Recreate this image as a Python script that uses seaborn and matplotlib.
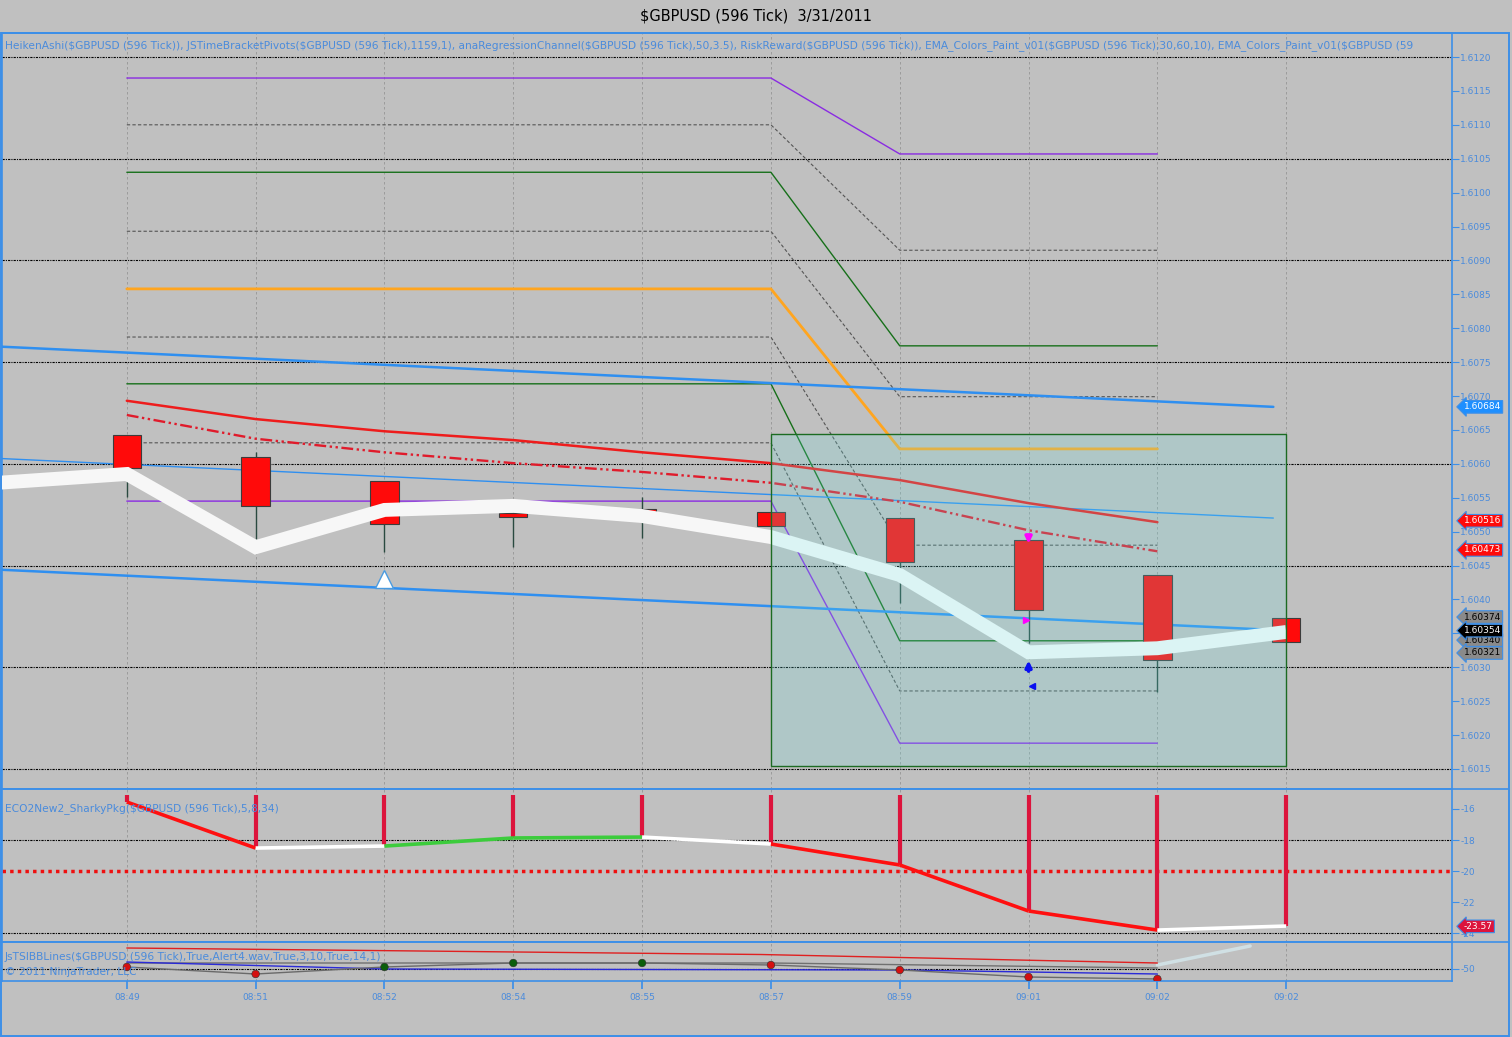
import numpy as np
import pandas as pd
import seaborn as sns
import matplotlib.pyplot as plt
import matplotlib.transforms as mtransforms
from matplotlib.patches import Rectangle
from matplotlib.lines import Line2D

# ---------------- data ----------------
bar_labels = ['08:49', '08:51', '08:52', '08:54', '08:55', '08:57', '08:59', '09:01', '09:02', '09:02']

# Heiken Ashi bars (all bearish)
ha_open = [1.60643, 1.60610, 1.60575, 1.60527, 1.60533, 1.60529, 1.60520, 1.60488, 1.60436, 1.60373]
ha_close = [1.60594, 1.60538, 1.60511, 1.60522, 1.60525, 1.60508, 1.60455, 1.60384, 1.60311, 1.60337]
ha_high = [1.60643, 1.60617, 1.60575, 1.60527, 1.60551, 1.60529, 1.60520, 1.60488, 1.60436, 1.60373]
ha_low = [1.60551, 1.60489, 1.60470, 1.60477, 1.60491, 1.60508, 1.60395, 1.60336, 1.60263, 1.60337]

# thick EMA (starts one bar before the first visible bar)
ema_white_idx = [-1, 0, 1, 2, 3, 4, 5, 6, 7, 8, 9]
ema_white = [1.60572, 1.60585, 1.60477, 1.60532, 1.60538, 1.60523, 1.60492, 1.60436, 1.60322, 1.60328, 1.60352]

# red EMAs
ema_red = [1.60693, 1.60666, 1.60648, 1.60635, 1.60617, 1.60601, 1.60576, 1.60542, 1.60514]
ema_red_dd = [1.60672, 1.60637, 1.60617, 1.60601, 1.60588, 1.60572, 1.60544, 1.60502, 1.60471]

# time bracket pivots: level before / after the bracket change
pivot_idx = [0, 5, 6, 8]
pivot_before = [1.61169, 1.61100, 1.61030, 1.60943, 1.60858, 1.60787, 1.60718, 1.60631, 1.60545]
pivot_after = [1.61057, 1.60915, 1.60774, 1.60699, 1.60622, 1.60480, 1.60339, 1.60265, 1.60188]
pivot_kind = ['purple', 'dash', 'green', 'dash', 'orange', 'dash', 'green', 'dash', 'purple']

# regression channel end points
chan_idx = [-1, 8.9]
chan_upper = [1.60773, 1.60684]
chan_mid = [1.60608, 1.60520]
chan_lower = [1.60444, 1.60355]

# risk/reward box
rr_idx = [5, 9]
rr_price = [1.60154, 1.60644]

# price tags on the right scale
tag_prices = [1.60684, 1.60516, 1.60473, 1.60374, 1.60340, 1.60321, 1.60354]
tag_fill = ['#1e8fff', '#ff0a0a', '#ff0a0a', '#8a8a8a', '#8a8a8a', '#8a8a8a', '#000000']
tag_text = ['white', 'white', 'white', 'black', 'black', 'black', 'white']

# ECO2New2 panel
eco = [-15.55, -18.52, -18.39, -17.87, -17.81, -18.26, -19.61, -22.58, -23.81, -23.55]
eco_seg_color = ['#ff1010', 'white', '#3ccc3c', '#3ccc3c', 'white', '#ff1010', '#ff1010', '#ff1010', 'white']
eco_base = -15.1
eco_last = -23.57

# JsTSIBBLines panel
tsi = [-48, -55, -48, -44, -44, -46, -51, -58, -60]
tsi_dot = ['#d41010', '#d41010', '#0b5e0b', '#0b5e0b', '#0b5e0b', '#d41010', '#d41010', '#d41010', '#d41010']
tsi_red_idx = [0, 4.92, 8]
tsi_red = [-29, -35.5, -44]
tsi_grey_idx = [0, 5, 8]
tsi_grey = [-44, -44, -49]
tsi_blue_idx = [0, 2, 6, 8]
tsi_blue = [-43, -50, -51, -55]

# ---------------- style ----------------
sns.set_theme(style='white')
plt.rcParams['font.family'] = ['DejaVu Sans']
BG = '#c0c0c0'
BLUE = '#3d8fe8'
TXT = '#4a8bdc'

fig = plt.figure(figsize=(15.12, 10.37), dpi=100, facecolor=BG)
H = 1037.0
ax = fig.add_axes([2 / 1512, 1 - 789 / H, 1450 / 1512, (789 - 33) / H])
ax_eco = fig.add_axes([2 / 1512, 1 - 942 / H, 1450 / 1512, (942 - 789) / H])
ax_tsi = fig.add_axes([2 / 1512, 1 - 981 / H, 1450 / 1512, (981 - 942) / H])

xlim = (-0.969, 10.287)
for a in (ax, ax_eco, ax_tsi):
    a.set_facecolor(BG)
    a.set_xlim(*xlim)
    for s in a.spines.values():
        s.set_color(BLUE)
        s.set_linewidth(1.2)
    a.yaxis.tick_right()
    a.tick_params(axis='y', which='both', direction='out', length=5, width=0.8,
                  color=BLUE, labelcolor=TXT, labelsize=6.5, pad=1, left=False, right=True)
    a.tick_params(axis='x', bottom=False, labelbottom=False)
    for i in range(len(bar_labels)):
        a.axvline(i, color='#959595', lw=0.6, ls=(0, (3, 3)), zorder=1)

gridstyle = dict(color='black', lw=0.8, ls=(0, (2, 1, 1, 1)), zorder=1)

# ---------------- main price panel ----------------
ax.set_ylim(1.601204, 1.612354)
ticks = np.round(np.arange(1.6015, 1.61201, 0.0005), 4)
ax.set_yticks(ticks)
ax.set_yticklabels(['%.4f' % t for t in ticks])
for g in np.arange(1.6015, 1.61201, 0.0015):
    ax.axhline(g, **gridstyle)

pstyle = {
    'purple': dict(color='#8a2be2', lw=1.0, ls='-'),
    'dash': dict(color='#555555', lw=0.8, ls=(0, (3, 2))),
    'green': dict(color='#17701a', lw=1.0, ls='-'),
    'orange': dict(color='#ffa51f', lw=2.0, ls='-'),
}
for b, a_, k in zip(pivot_before, pivot_after, pivot_kind):
    ax.plot(pivot_idx, [b, b, a_, a_], zorder=2, **pstyle[k])

# regression channel
ax.plot(chan_idx, chan_upper, color='#2f8ff0', lw=1.8, zorder=3)
ax.plot(chan_idx, chan_mid, color='#2f8ff0', lw=1.0, zorder=3)
ax.plot(chan_idx, chan_lower, color='#2f8ff0', lw=1.8, zorder=3)

idx = np.arange(len(ha_open))
df_ema = pd.DataFrame({'idx': idx[:len(ema_red)], 'ema': ema_red, 'ema2': ema_red_dd})
sns.lineplot(data=df_ema, x='idx', y='ema', ax=ax, color='#ee1c1c', lw=1.8, zorder=4)
sns.lineplot(data=df_ema, x='idx', y='ema2', ax=ax, color='#e01b2b', lw=1.7,
             ls=(0, (5, 1.5, 1, 1.5, 1, 1.5)), zorder=4)

# candles
ax.vlines(idx, ha_low, ha_high, color='#2a4a40', lw=1.0, zorder=5)
ax.bar(idx, np.array(ha_close) - np.array(ha_open), bottom=ha_open, width=0.22,
       color='#ff0a0a', edgecolor='#3c3c3c', linewidth=0.8, zorder=6)

# thick EMA
df_w = pd.DataFrame({'idx': ema_white_idx, 'v': ema_white})
sns.lineplot(data=df_w, x='idx', y='v', ax=ax, color='#f7f7f7', lw=10, zorder=7)
for ln in ax.lines[-1:]:
    ln.set_solid_joinstyle('miter')
    ln.set_solid_capstyle('butt')

# risk reward box overlay
ax.add_patch(Rectangle((rr_idx[0], rr_price[0]), rr_idx[1] - rr_idx[0], rr_price[1] - rr_price[0],
                       facecolor='#6be8e8', alpha=0.2, edgecolor='none', zorder=8))
ax.add_patch(Rectangle((rr_idx[0], rr_price[0]), rr_idx[1] - rr_idx[0], rr_price[1] - rr_price[0],
                       facecolor='none', edgecolor='#1b6b22', lw=1.0, zorder=8))

# signal markers
ax.plot(2, 1.60430, marker='^', ms=13, mfc='white', mec='#4a9be0', mew=1, zorder=9)
ax.annotate('', xy=(7, 1.60478), xytext=(7, 1.60498),
            arrowprops=dict(arrowstyle='-|>', color='#ff00ff', lw=2.5, mutation_scale=9), zorder=9)
ax.plot(6.98, 1.60370, marker='>', ms=5, color='#ff00ff', zorder=9)
ax.annotate('', xy=(7, 1.60314), xytext=(7, 1.60290),
            arrowprops=dict(arrowstyle='-|>', color='#0a10f0', lw=2.5, mutation_scale=9), zorder=9)
ax.plot(7.03, 1.60272, marker='<', ms=5, color='#0a10f0', zorder=9)

# indicator list, cut where the chart cuts it
legend_str = ('HeikenAshi(\\$GBPUSD (596 Tick)), JSTimeBracketPivots(\\$GBPUSD (596 Tick),1159,1), '
              'anaRegressionChannel(\\$GBPUSD (596 Tick),50,3.5), RiskReward(\\$GBPUSD (596 Tick)), '
              'EMA_Colors_Paint_v01(\\$GBPUSD (596 Tick),30,60,10), EMA_Colors_Paint_v01(\\$GBPUSD (59')
ax.text(0.002, 0.984, legend_str, transform=ax.transAxes, fontsize=7.7, color=TXT,
        ha='left', va='center', zorder=10)

def tag(a, y, s, fc, tc):
    tr = mtransforms.blended_transform_factory(a.transAxes, a.transData)
    a.text(1.008, y, s, transform=tr, fontsize=6.5, color=tc, ha='left', va='center',
           bbox=dict(boxstyle='larrow,pad=0.2', fc=fc, ec=BLUE, lw=0.8), clip_on=False, zorder=20)

for p, fc, tc in zip(tag_prices, tag_fill, tag_text):
    tag(ax, p, '%.5f' % p, fc, tc)

# ---------------- ECO panel ----------------
ax_eco.set_ylim(-24.58, -14.71)
ax_eco.set_yticks([-16, -18, -20, -22, -24])
ax_eco.set_yticklabels(['-16', '-18', '-20', '-22', '-24'])
ax_eco.axhline(-18, **gridstyle)
ax_eco.axhline(-24, **gridstyle)
ax_eco.axhline(-20, color='#ee1010', lw=2.5, ls=(0, (1, 1.2)), zorder=2)
ax_eco.vlines(idx, eco, eco_base, color='#dc143c', lw=3, zorder=3)
for i, c in enumerate(eco_seg_color):
    ax_eco.plot([i, i + 1], [eco[i], eco[i + 1]], color=c, lw=2.6, zorder=4,
                solid_capstyle='butt')
ax_eco.text(0.002, 0.87, 'ECO2New2_SharkyPkg(\\$GBPUSD (596 Tick),5,8,34)', transform=ax_eco.transAxes,
            fontsize=7.7, color=TXT, ha='left', va='center', zorder=10)
tag(ax_eco, eco_last, '%.2f' % eco_last, '#dc143c', 'white')

# ---------------- TSI panel ----------------
ax_tsi.set_ylim(-62, -23)
ax_tsi.set_yticks([-50])
ax_tsi.set_yticklabels(['-50'])
ax_tsi.axhline(-50, **gridstyle)
ax_tsi.plot(tsi_red_idx, tsi_red, color='#e02020', lw=1.0, zorder=3)
ax_tsi.plot(tsi_grey_idx, tsi_grey, color='#707070', lw=1.0, zorder=3)
ax_tsi.plot(tsi_blue_idx, tsi_blue, color='#2a2ad8', lw=1.0, zorder=3)
ax_tsi.plot(idx[:len(tsi)], tsi, color='#6a6a6a', lw=1.0, zorder=3)
ax_tsi.plot([8, 8.72], [-46, -27], color='#d0e0e4', lw=2.5, zorder=2)
df_t = pd.DataFrame({'idx': idx[:len(tsi)], 'v': tsi, 'c': tsi_dot})
sns.scatterplot(data=df_t, x='idx', y='v', hue='c', palette={c: c for c in set(tsi_dot)},
                ax=ax_tsi, s=30, edgecolor='#303030', linewidth=0.4, legend=False, zorder=5)
ax_tsi.set_xlabel('')
ax_tsi.set_ylabel('')
ax_tsi.text(0.002, 0.62, 'JsTSIBBLines(\\$GBPUSD (596 Tick),True,Alert4.wav,True,3,10,True,14,1)',
            transform=ax_tsi.transAxes, fontsize=7.7, color=TXT, ha='left', va='center', zorder=10)
ax_tsi.text(0.002, 0.22, '\u00a9 2011 NinjaTrader, LLC', transform=ax_tsi.transAxes,
            fontsize=7.7, color=TXT, ha='left', va='center', zorder=10)
ax_tsi.set_xticks(idx)
ax_tsi.set_xticklabels(bar_labels)
ax_tsi.tick_params(axis='x', bottom=True, labelbottom=True, direction='out', length=6,
                   color=BLUE, labelcolor=TXT, labelsize=6.5, pad=3)
for a in (ax, ax_eco):
    a.set_xlabel('')
    a.set_ylabel('')

# ---------------- outer frame and title ----------------
fig.patches.append(Rectangle((0.0006, 0.0006), 1508 / 1512, 1 - 33 / H - 0.0006, transform=fig.transFigure,
                             fill=False, edgecolor=BLUE, lw=1.4))
for yy in (789, 942):
    fig.lines.append(Line2D([0, 1508 / 1512], [1 - yy / H] * 2, transform=fig.transFigure,
                            color=BLUE, lw=1.2))
fig.text(0.5, 1 - 16 / H, '\\$GBPUSD (596 Tick)  3/31/2011', ha='center', va='center',
         fontsize=10.5, color='black')

fig.savefig('out.png', dpi=100, facecolor=BG)
